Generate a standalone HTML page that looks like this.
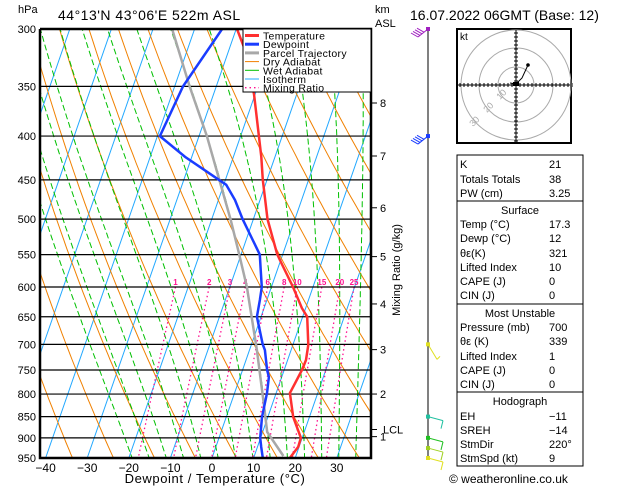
<!DOCTYPE html>
<html><head><meta charset="utf-8"><style>
body{margin:0;background:#fff;}
svg{display:block;font-family:"Liberation Sans",sans-serif;}
</style></head><body>
<svg id="c" width="629" height="486" viewBox="0 0 629 486" xmlns="http://www.w3.org/2000/svg">
<defs><clipPath id="pc"><rect x="40" y="29" width="331" height="429"/></clipPath></defs>
<g id="grid" clip-path="url(#pc)"></g>
<g id="series" clip-path="url(#pc)"></g>
<g id="axes"></g>
<text x="18" y="13" font-size="11">hPa</text>
<text x="58" y="20" font-size="14" letter-spacing="0.5">44°13'N  43°06'E  522m  ASL</text>
<text x="410" y="20" font-size="14">16.07.2022  06GMT  (Base: 12)</text>
<text x="375" y="13" font-size="11">km</text>
<text x="375" y="27" font-size="11">ASL</text>
<text x="215" y="483" font-size="13" text-anchor="middle" letter-spacing="0.6">Dewpoint / Temperature (°C)</text>
<text transform="translate(400,270) rotate(-90)" font-size="11" text-anchor="middle">Mixing Ratio (g/kg)</text>
<g>
<rect x="243" y="29" width="128" height="63" fill="#fff" stroke="#000" stroke-width="1"/>
</g>
<g id="legend"></g>
<g id="wind"></g>
<g id="hodo"></g>
<g id="table"></g>
<text x="449" y="483" font-size="12">© weatheronline.co.uk</text>
</svg>
<script>
const pressureTicks=[300,350,400,450,500,550,600,650,700,750,800,850,900,950];
const tempTicks=[-40,-30,-20,-10,0,10,20,30];
const tempP=[950,922,900,851,798,750,730,701,650,635,600,558,549,500,450,423,400,358,320,300];
const tempT=[18.7,19.8,19.7,16.1,13.3,14.3,14.4,13.7,11.1,9.1,5.2,-0.2,-1.4,-6.6,-11,-13.3,-15.6,-20.2,-25.6,-29.8];
const dewP=[950,922,900,851,798,764,750,711,700,650,621,600,573,550,500,475,456,423,400,350,300];
const dewT=[12.2,10.9,9.9,8.6,7.8,6.9,5.9,3.7,2.7,-1.0,-1.7,-2.3,-4.0,-5.5,-12.6,-16,-19.4,-31.6,-39.4,-38,-33.4];
const parcelP=[945,886,813,711,600,543,500,400,350,300];
const parcelT=[17,11.1,7.5,1.8,-5.9,-11.1,-15.5,-28.1,-36.4,-45.4];
const mixRatios=[1,2,3,4,6,8,10,15,20,25];
const kmLabels=["1","2","3","4","5","6","7","8"];
const kmPressures=[897,800,710,628,553,485,422,366];
const NS="http://www.w3.org/2000/svg";
function yP(p){return 29+Math.log(p/300)/Math.log(950/300)*429;}
function xT(T,p){return 212+4.16*T+149*(458-yP(p))/429;}
function mk(parent,tag,attrs){const e=document.createElementNS(NS,tag);for(const k in attrs)e.setAttribute(k,attrs[k]);document.getElementById(parent).appendChild(e);return e;}
function poly(parent,pts,col,w,dash,name){const e=mk(parent,'polyline',{points:pts.map(q=>q[0].toFixed(1)+','+q[1].toFixed(1)).join(' '),fill:'none',stroke:col,'stroke-width':w,'stroke-dasharray':dash||'none'});

return e;}
for(let T=-150;T<=50;T+=10){poly('grid',[[xT(T,950),yP(950)],[xT(T,300),yP(300)]],'#22a8ff',1,null,'isotherm');}
for(let k=-8;k<=20;k++){const th=273.15+10*k;const pts=[];for(let p=1000;p>=300;p-=10){pts.push([xT(th*Math.pow(p/1000,0.286)-273.15,p),yP(p)]);}poly('grid',pts,'#f08000',1,null,'dry-adiabat');}
function es(T){return 6.112*Math.exp(17.67*T/(T+243.5));}
for(let T0=-16;T0<=40;T0+=4){let T=T0+273.15;const pts=[];for(let p=1000;p>=300;p-=5){pts.push([xT(T-273.15,p),yP(p)]);const e=es(T-273.15);const rs=0.622*e/(p-e);const dT=(287*T+2.5e6*rs)/(1005+2.5e6*2.5e6*rs*0.622/(287*T*T));T+=dT*Math.log((p-5)/p);}poly('grid',pts,'#00c000',1,'6,3','wet-adiabat');}
function tdFromW(w,p){const e=w*p/(622+w);const l=Math.log(e/6.112);return 243.5*l/(17.67-l);}
mixRatios.forEach(w=>{const pts=[];for(let p=600;p<=950;p+=10)pts.push([xT(tdFromW(w,p),p),yP(p)]);poly('grid',pts,'#ff1090',1.3,'1.5,3','mixing-ratio-line');
const t=mk('grid','text',{x:xT(tdFromW(w,600),600),y:yP(600)-2,'font-size':8,fill:'#ff1090','text-anchor':'middle','font-weight':'bold'});t.textContent=w;

});
pressureTicks.forEach(p=>{const l=mk('grid','line',{x1:40,x2:371,y1:yP(p),y2:yP(p),stroke:'#000','stroke-width':1.2});


const t=mk('axes','text',{x:36,y:yP(p)+4,'font-size':11,'text-anchor':'end'});t.textContent=p;

});
function series(P,T,col,w,name){poly('series',P.map((p,i)=>[xT(T[i],p),yP(p)]),col,w,null,name);}
series(parcelP,parcelT,'#a8a8a8',2.5,'parcel-trajectory');
series(dewP,dewT,'#1a3cff',2.5,'dewpoint-line');
series(tempP,tempT,'#ff3030',2.5,'temperature-line');
const fr=mk('axes','path',{d:'M40,29 V458 H371 V29 H40',fill:'none',stroke:'#000','stroke-width':2.5});


tempTicks.forEach(T=>{const t=mk('axes','text',{x:xT(T,950),y:472,'font-size':12,'text-anchor':'middle'});t.textContent=(T<0?'\u2212'+(-T):T);

});
kmLabels.forEach((k,i)=>{const y=yP(kmPressures[i]);mk('axes','line',{x1:371,x2:377,y1:y,y2:y,stroke:'#000'});const t=mk('axes','text',{x:380,y:y+4,'font-size':11});t.textContent=k;

});
{const y=yP(880);mk('axes','line',{x1:371,x2:377,y1:y,y2:y,stroke:'#000'});const t=mk('axes','text',{x:383,y:y+4,'font-size':11});t.textContent='LCL';

}
const leg=[['Temperature','#ff3030',3,null],['Dewpoint','#1a3cff',3,null],['Parcel Trajectory','#a8a8a8',3,null],['Dry Adiabat','#f08000',1,null],['Wet Adiabat','#00c000',1,null],['Isotherm','#22a8ff',1,null],['Mixing Ratio','#ff1090',1.3,'1.5,3']];
leg.forEach((L,i)=>{const y=35.5+i*8.7;mk('legend','line',{x1:245,x2:259,y1:y,y2:y,stroke:L[1],'stroke-width':L[2],'stroke-dasharray':L[3]||'none'});const t=mk('legend','text',{x:263,y:y+4,'font-size':10.5,'letter-spacing':'0.3'});t.textContent=L[0];

});
mk('wind','line',{x1:428,x2:428,y1:29,y2:458,stroke:'#000','stroke-width':1});
const barbs=[[300,'#a020c0'],[400,'#1a3cff'],[700,'#e0e020'],[850,'#20c0a0'],[900,'#20c020'],[925,'#a0d020'],[950,'#e0e020']];
barbs.forEach((b,i)=>{const y=yP(b[0]);mk('wind','rect',{x:426,y:y-2,width:4,height:4,fill:b[1]});
if(i<2){mk('wind','line',{x1:428,y1:y,x2:418,y2:y+8,stroke:b[1]});for(let j=0;j<4;j++)mk('wind','line',{x1:418+j*2,y1:y+8-j*1.6,x2:411+j*2,y2:y+4-j*1.6,stroke:b[1]});}
else if(i==2){mk('wind','line',{x1:428,y1:y,x2:437,y2:y+15,stroke:b[1]});mk('wind','line',{x1:437,y1:y+15,x2:440,y2:y+12,stroke:b[1]});}
else{mk('wind','line',{x1:428,y1:y,x2:443,y2:y+4,stroke:b[1]});mk('wind','line',{x1:443,y1:y+4,x2:441,y2:y+12,stroke:b[1]});}});
mk('hodo','rect',{x:457,y:29,width:114,height:114,fill:'#fff',stroke:'#000','stroke-width':2});
const hc=[516,85];
[18,37,55].forEach(r=>mk('hodo','circle',{cx:hc[0],cy:hc[1],r:r,fill:'none',stroke:'#aaa'}));
mk('hodo','line',{x1:458,x2:570,y1:hc[1],y2:hc[1],stroke:'#000'});
mk('hodo','line',{x1:hc[0],x2:hc[0],y1:30,y2:142,stroke:'#000'});
for(let i=-14;i<=14;i++){mk('hodo','line',{x1:hc[0]+i*4,x2:hc[0]+i*4,y1:hc[1]-2,y2:hc[1]+2,stroke:'#000'});mk('hodo','line',{y1:hc[1]+i*4,y2:hc[1]+i*4,x1:hc[0]-2,x2:hc[0]+2,stroke:'#000'});}
mk('hodo','polyline',{points:'510,83 516,84 522,78 528,65',fill:'none',stroke:'#000'});
mk('hodo','circle',{cx:528,cy:65,r:1.8,fill:'#000'});
mk('hodo','rect',{x:513,y:82,width:6,height:4,fill:'#000'});
{const t=mk('hodo','text',{x:460,y:40,'font-size':10});t.textContent='kt';}
[['10',500,100],['20',487,113],['30',473,127]].forEach(a=>{const t=mk('hodo','text',{x:a[1],y:a[2],'font-size':9,fill:'#aaa',transform:'rotate(-45 '+a[1]+' '+a[2]+')'});t.textContent=a[0];});
mk('table','rect',{x:457,y:155,width:126,height:311,fill:'#fff',stroke:'#000','stroke-width':1});
[201,304,392].forEach(y=>mk('table','line',{x1:457,x2:583,y1:y,y2:y,stroke:'#000','stroke-width':1}));
const rows=[[168,'K','21'],[183,'Totals Totals','38'],[197,'PW (cm)','3.25'],[214,'Surface',null],[228,'Temp (°C)','17.3'],[242,'Dewp (°C)','12'],[257,'θε(K)','321'],[271,'Lifted Index','10'],[285,'CAPE (J)','0'],[299,'CIN (J)','0'],[317,'Most Unstable',null],[331,'Pressure (mb)','700'],[345,'θε (K)','339'],[360,'Lifted Index','1'],[374,'CAPE (J)','0'],[388,'CIN (J)','0'],[405,'Hodograph',null],[420,'EH','\u221211'],[434,'SREH','\u221214'],[448,'StmDir','220°'],[462,'StmSpd (kt)','9']];
rows.forEach(r=>{const t=mk('table','text',{x:r[2]===null?520:460,y:r[0],'font-size':11,'text-anchor':r[2]===null?'middle':'start'});t.textContent=r[1];


if(r[2]!==null){const v=mk('table','text',{x:549,y:r[0],'font-size':11});v.textContent=r[2];

}});
</script>
</body></html>
